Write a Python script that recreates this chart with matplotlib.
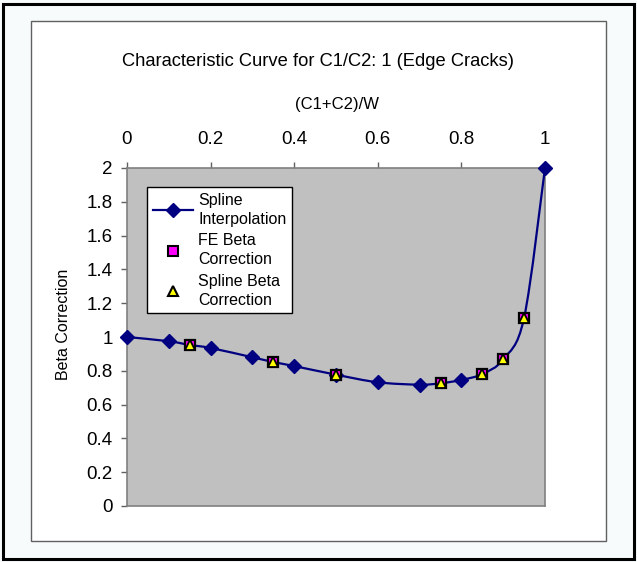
import matplotlib.pyplot as plt
import matplotlib.patches as patches
from matplotlib.path import Path
from matplotlib.lines import Line2D

plt.rcParams['font.family'] = ['Liberation Sans', 'DejaVu Sans']

# data
spline_x = [0, 0.1, 0.15, 0.2, 0.3, 0.35, 0.4, 0.5, 0.6, 0.7, 0.75, 0.8, 0.85, 0.9, 0.95, 1.0]
spline_y = [1.0, 0.975, 0.953, 0.935, 0.88, 0.852, 0.828, 0.777, 0.732, 0.718, 0.726, 0.746, 0.781, 0.868, 1.114, 2.0]
fe_x = [0.15, 0.35, 0.5, 0.75, 0.85, 0.9, 0.95]
fe_y = [0.953, 0.852, 0.777, 0.726, 0.781, 0.868, 1.114]
sb_x = fe_x
sb_y = fe_y
diamond_x = [0, 0.1, 0.2, 0.3, 0.4, 0.5, 0.6, 0.7, 0.8, 1.0]
diamond_y = [1.0, 0.975, 0.935, 0.88, 0.828, 0.777, 0.732, 0.718, 0.746, 2.0]

title = "Characteristic Curve for C1/C2: 1 (Edge Cracks)"
xticks = [0, 0.2, 0.4, 0.6, 0.8, 1]
xtick_labels = ["0", "0.2", "0.4", "0.6", "0.8", "1"]
yticks = [0, 0.2, 0.4, 0.6, 0.8, 1, 1.2, 1.4, 1.6, 1.8, 2]
ytick_labels = ["0", "0.2", "0.4", "0.6", "0.8", "1", "1.2", "1.4", "1.6", "1.8", "2"]

W, H = 637, 562
fig = plt.figure(figsize=(W / 100, H / 100), dpi=100, facecolor='#f7fbfb')

# outer black frame and inner chart area box
fig.patches.append(patches.Rectangle((3 / W, 3 / H), 631 / W, 555 / H, transform=fig.transFigure,
                                     fill=False, edgecolor='black', linewidth=2.2, zorder=-2))
fig.patches.append(patches.Rectangle((31 / W, (H - 541) / H), 575 / W, 520 / H, transform=fig.transFigure,
                                     facecolor='white', edgecolor='#606060', linewidth=1, zorder=-1))

ax = fig.add_axes([127 / W, (H - 506) / H, 418 / W, 338 / H])
ax.set_facecolor('#c0c0c0')
for s in ax.spines.values():
    s.set_color('#808080')
    s.set_linewidth(1.2)

# smoothed line (Excel-style Catmull-Rom bezier through the points)
pts = list(zip(spline_x, spline_y))
verts = [pts[0]]
codes = [Path.MOVETO]
n = len(pts)
for i in range(n - 1):
    p0 = pts[i - 1] if i > 0 else pts[i]
    p1 = pts[i]
    p2 = pts[i + 1]
    p3 = pts[i + 2] if i + 2 < n else pts[i + 1]
    c1 = (p1[0] + (p2[0] - p0[0]) / 6, p1[1] + (p2[1] - p0[1]) / 6)
    c2 = (p2[0] - (p3[0] - p1[0]) / 6, p2[1] - (p3[1] - p1[1]) / 6)
    verts += [c1, c2, p2]
    codes += [Path.CURVE4] * 3
ax.add_patch(patches.PathPatch(Path(verts, codes), fill=False, edgecolor='#000080', linewidth=1.6, zorder=3))

ax.plot(diamond_x, diamond_y, linestyle='none', marker='D', markersize=7,
        color='#000080', zorder=4, clip_on=False)
ax.plot(fe_x, fe_y, linestyle='none', marker='s', markersize=7, markerfacecolor='#ff00ff',
        markeredgecolor='black', markeredgewidth=1.6, zorder=5)
ax.plot(sb_x, sb_y, linestyle='none', marker='^', markersize=6.8, markerfacecolor='#ffff00',
        markeredgecolor='black', markeredgewidth=1.3, zorder=6)

ax.set_xlim(0, 1)
ax.set_ylim(0, 2)
ax.xaxis.tick_top()
ax.set_xticks(xticks)
ax.set_xticklabels(xtick_labels)
ax.set_yticks(yticks)
ax.set_yticklabels(ytick_labels)
ax.tick_params(direction='out', length=4.3, width=1, color='#606060', labelsize=13.5)
ax.tick_params(axis='x', pad=10)
ax.tick_params(axis='y', pad=6)

fig.text(337.5 / W, (H - 105) / H, "(C1+C2)/W", ha='center', va='center', fontsize=12)
fig.text(63 / W, (H - 324) / H, "Beta Correction", ha='center', va='center', rotation=90, fontsize=11.5)
fig.text(318.5 / W, (H - 62) / H, title, ha='center', va='center', fontsize=13.2)

handles = [
    Line2D([], [], color='#000080', marker='D', markersize=7, linewidth=1.6),
    Line2D([], [], linestyle='none', marker='s', markersize=7, markerfacecolor='#ff00ff',
           markeredgecolor='black', markeredgewidth=1.5),
    Line2D([], [], linestyle='none', marker='^', markersize=7, markerfacecolor='#ffff00',
           markeredgecolor='black', markeredgewidth=1.5),
]
labels = ["Spline\nInterpolation", "FE Beta\nCorrection", "Spline Beta\nCorrection"]
leg = ax.legend(handles, labels, loc='upper left', bbox_to_anchor=(0.048, 0.944), borderaxespad=0,
                fontsize=11.5, frameon=True, fancybox=False, framealpha=1, edgecolor='black',
                handlelength=2.5, handletextpad=0.35, labelspacing=0.4, borderpad=0.35)
leg.get_frame().set_linewidth(1)
for t in leg.get_texts():
    t.set_linespacing(1.35)

fig.savefig("out.png", dpi=100, facecolor=fig.get_facecolor())
